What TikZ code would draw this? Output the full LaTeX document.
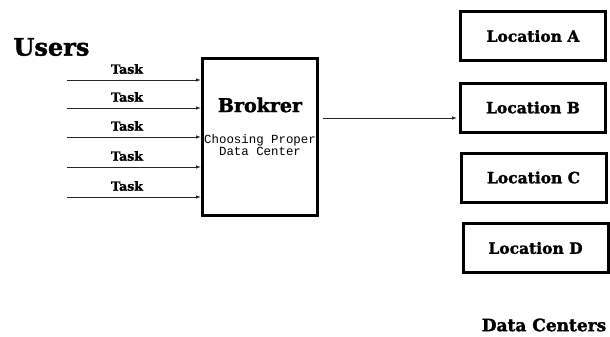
\documentclass[tikz,border=0pt]{standalone}
\usepackage{fontspec}
\setmainfont{DejaVu Serif}[BoldFeatures={FakeBold=1.6}]
\setmonofont{Liberation Mono}
\usetikzlibrary{arrows.meta}

\begin{document}
\begin{tikzpicture}[x=1pt, y=-1pt,
    box/.style={draw, line width=3pt},
    loc/.style={box, minimum width=145pt, minimum height=49pt, inner sep=0pt,
        font=\bfseries\fontsize{15.5}{17}\selectfont},
    task/.style={font=\bfseries\fontsize{12.5}{14}\selectfont},
    flow/.style={-{Latex[length=5pt,width=3.5pt]}, line width=0.8pt, black!85}]
    \useasboundingbox (0,0) rectangle (610,337);

    \node[anchor=west, font=\bfseries\fontsize{24}{26}\selectfont] (users) at (10,47) {Users};

    \node[box, minimum width=115pt, minimum height=157pt] (broker) at (260,137) {};
    \node[font=\bfseries\fontsize{19}{21}\selectfont] (title) at (260,105) {Brokrer};
    \node[align=center, inner sep=0pt, font=\ttfamily\fontsize{12.4}{12}\selectfont] (job) at (260,145)
        {Choosing Proper\\Data Center};

    \foreach \y [count=\i] in {80,108,137,167,197} {
        \coordinate (u\i) at (67,\y);
        \draw[flow] (u\i) -- (u\i -| broker.west);
        \node[task] (t\i) at (127,\y-11) {Task};
    }

    \node[loc] (la) at (533,36) {Location A};
    \node[loc] (lb) at (533,107.5) {Location B};
    \node[loc] (lc) at (533.5,177.5) {Location C};
    \node[loc] (ld) at (535.5,248) {Location D};

    \coordinate (out) at (323,118);
    \draw[flow, shorten >=2pt] (out) -- (out -| lb.west);

    \node[font=\bfseries\fontsize{17}{19}\selectfont] (dc) at (544,325) {Data Centers};
\end{tikzpicture}
\end{document}
